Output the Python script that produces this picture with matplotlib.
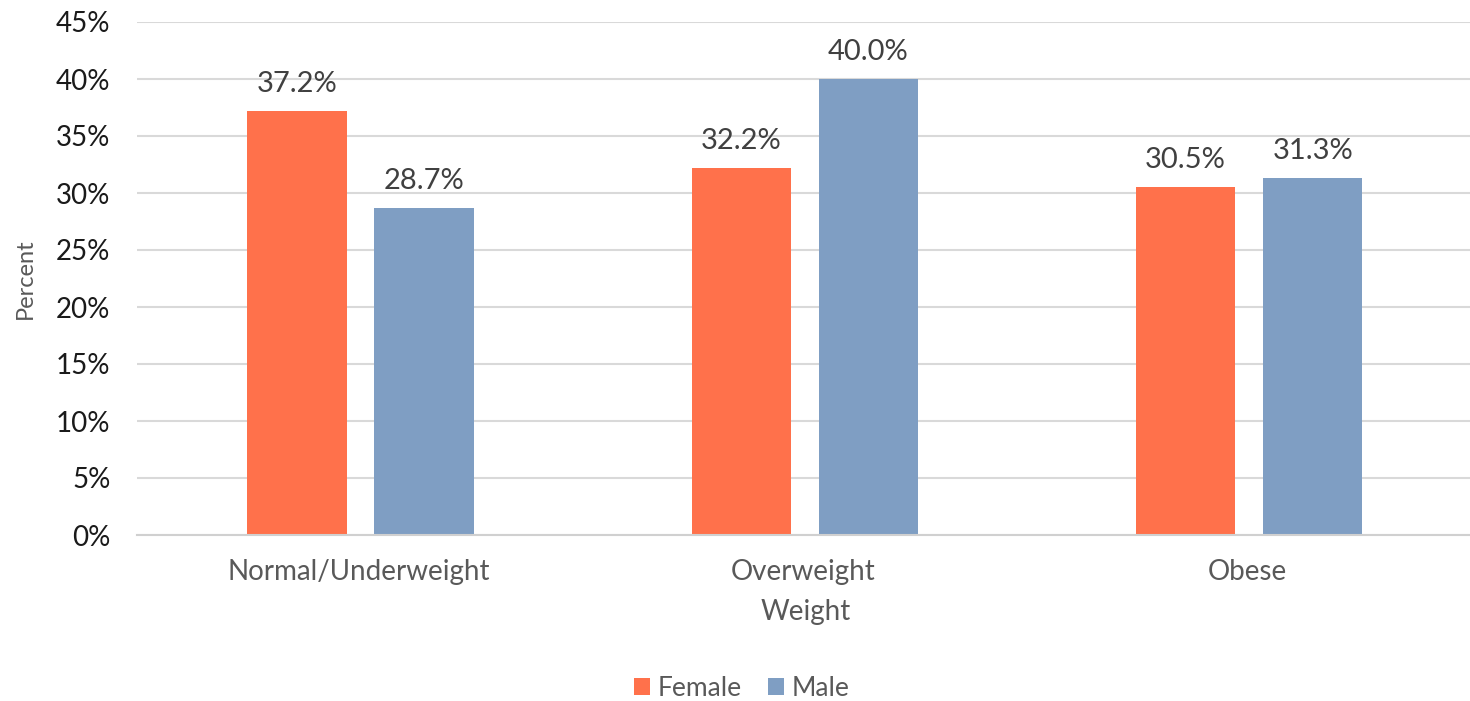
import matplotlib
matplotlib.use("Agg")
import matplotlib.pyplot as plt
import numpy as np

categories = ["Normal/Underweight", "Overweight", "Obese"]
female = [37.2, 32.2, 30.5]
male = [28.7, 40.0, 31.3]
yticks = [0, 5, 10, 15, 20, 25, 30, 35, 40, 45]

orange = "#FF714B"
blue = "#7F9EC3"
grey = "#595959"

plt.rcParams['font.family'] = ['Lato', 'DejaVu Sans']

fig = plt.figure(figsize=(14.7, 7.01), dpi=100)
ax = fig.add_axes([137 / 1470, 1 - 535 / 701, 1333 / 1470, 513 / 701])

x = np.arange(len(categories))
w = 0.224
off = 0.143
b1 = ax.bar(x - off + 0.003, female, w, color=orange, label="Female", zorder=3)
b2 = ax.bar(x + off + 0.003, male, w, color=blue, label="Male", zorder=3)

# value labels
for bars, vals in ((b1, female), (b2, male)):
    for rect, v in zip(bars, vals):
        ax.annotate(f"{v:.1f}%", (rect.get_x() + rect.get_width() / 2, v),
                    xytext=(0, 10), textcoords="offset points",
                    ha="center", va="bottom", fontsize=21, color="#404040")

ax.set_xlim(-0.5, 2.5)
ax.set_ylim(0, 45)
ax.set_yticks(yticks)
ax.set_yticklabels([f"{t}%" for t in yticks], fontsize=20, color="#1a1a1a")
ax.set_xticks(x)
ax.set_xticklabels(categories, fontsize=20, color=grey)
ax.tick_params(axis="both", length=0)
ax.tick_params(axis="y", pad=19)
ax.tick_params(axis="x", pad=17)

ax.grid(axis="y", color="#D9D9D9", linewidth=1.5, zorder=0)
for s in ("top", "right", "left"):
    ax.spines[s].set_visible(False)
ax.spines["bottom"].set_color("#D0D0D0")
ax.spines["bottom"].set_linewidth(1.5)
ax.spines["bottom"].set_zorder(4)

fig.text(25 / 1470, 1 - 279 / 701, "Percent", rotation=90, ha="center", va="center",
         fontsize=17, color=grey)
fig.text(806 / 1470, 1 - 612 / 701, "Weight", ha="center", va="center",
         fontsize=20, color=grey)

fig.legend(handles=[b1, b2], labels=["Female", "Male"], loc="center",
           bbox_to_anchor=(742 / 1470, 1 - 688 / 701), ncol=2, frameon=False,
           fontsize=19, handlelength=0.6, handleheight=0.6, handletextpad=0.3,
           columnspacing=1.0, labelcolor=grey)

fig.savefig("out.png", dpi=100)
